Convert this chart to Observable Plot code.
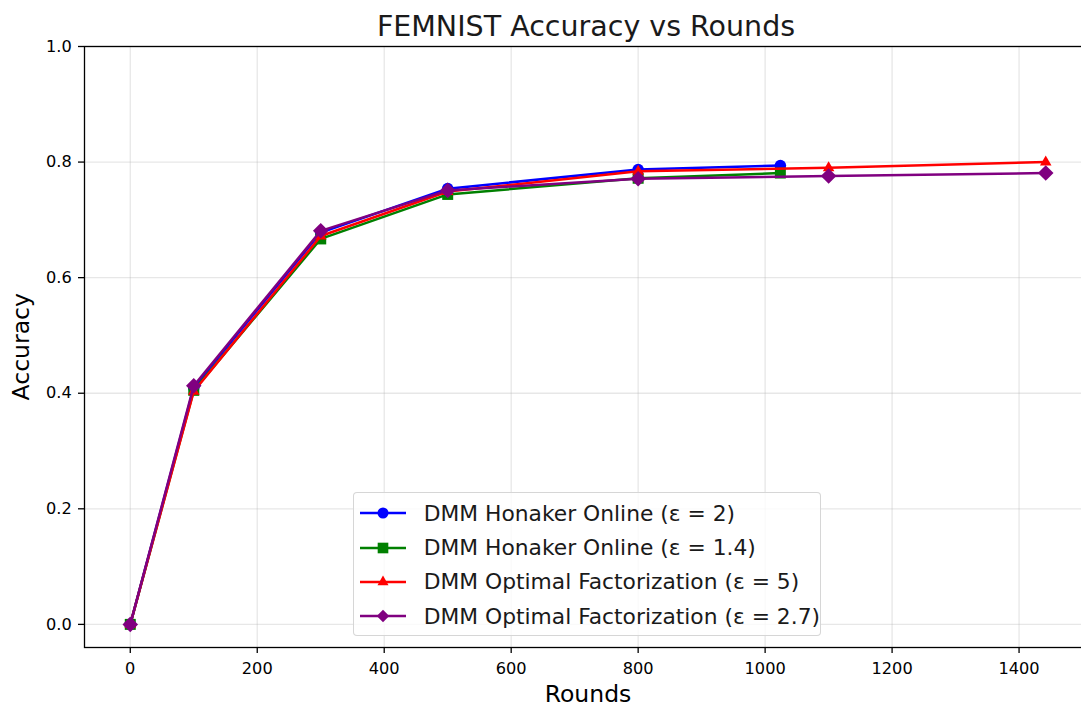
<!DOCTYPE html>
<html><head><meta charset="utf-8">
<script src="https://cdn.jsdelivr.net/npm/d3@7"></script>
<script src="https://cdn.jsdelivr.net/npm/@observablehq/plot@0.6"></script>
<style>
body{margin:0;background:#fff;font-family:"DejaVu Sans",sans-serif;color:#000;}
#wrap{position:relative;width:1081px;height:711px;overflow:hidden;background:#fff;}
#title{position:absolute;left:0;top:12.6px;width:1172px;text-align:center;font-size:28.5px;line-height:28.5px;white-space:nowrap;z-index:2;color:#1a1a1a;}
#chart{position:absolute;left:0;top:36px;width:1091px;height:675px;z-index:1;}
#chart svg{max-width:none !important;display:block;}
#xlabel{position:absolute;left:0;top:683.4px;width:1176px;text-align:center;font-size:23.5px;line-height:23.5px;white-space:nowrap;z-index:2;}
#ylabel{position:absolute;left:-78.3px;top:335.25px;width:200px;text-align:center;font-size:23.5px;line-height:23.5px;white-space:nowrap;transform:rotate(-90deg);transform-origin:50% 50%;z-index:2;}
#legend{position:absolute;left:353px;top:492px;width:468px;height:144px;box-sizing:border-box;border:1px solid rgba(204,204,204,0.8);border-radius:4px;background:rgba(255,255,255,0.8);z-index:3;}
.row{position:absolute;left:0;height:34.4px;display:flex;align-items:center;white-space:nowrap;font-size:21.8px;color:#1a1a1a;}
.row svg{margin-left:6px;}
.row span{margin-left:17.7px;}
</style></head><body>
<div id="wrap">
  <div id="title">FEMNIST Accuracy vs Rounds</div>
  <div id="chart"></div>
  <div id="xlabel">Rounds</div>
  <div id="ylabel">Accuracy</div>
  <div id="legend"></div>
</div>
<script>
// ---- data ----
const roundsHonaker = [0, 100, 300, 500, 800, 1024];
const roundsOptimal = [0, 100, 300, 500, 800, 1100, 1442];
const accHonakerEps2 = [0, 0.410, 0.678, 0.754, 0.787, 0.794];
const accHonakerEps14 = [0, 0.405, 0.667, 0.744, 0.772, 0.781];
const accOptimalEps5 = [0, 0.403, 0.672, 0.749, 0.784, 0.790, 0.800];
const accOptimalEps27 = [0, 0.413, 0.681, 0.751, 0.771, 0.776, 0.781];
const seriesNames = [
  "DMM Honaker Online (ε = 2)",
  "DMM Honaker Online (ε = 1.4)",
  "DMM Optimal Factorization (ε = 5)",
  "DMM Optimal Factorization (ε = 2.7)"
];
const seriesColors = ["blue", "green", "red", "purple"];
const seriesSymbols = ["circle", "square", "triangle", "diamond2"];
const xTicks = [0, 200, 400, 600, 800, 1000, 1200, 1400];
const yTicks = [0, 0.2, 0.4, 0.6, 0.8, 1.0];

const seriesRounds = [roundsHonaker, roundsHonaker, roundsOptimal, roundsOptimal];
const seriesAcc = [accHonakerEps2, accHonakerEps14, accOptimalEps5, accOptimalEps27];
const symbolR = {circle: 5.8, square: 6.2, triangle: 4.3, diamond2: 7.0};
const legendR = {circle: 5.5, square: 6.0, triangle: 4.1, diamond2: 5.6};

const marks = [
  Plot.gridX(xTicks, {stroke: "#b0b0b0", strokeOpacity: 0.3, strokeWidth: 1.3}),
  Plot.gridY(yTicks, {stroke: "#b0b0b0", strokeOpacity: 0.3, strokeWidth: 1.3})
];
seriesNames.forEach((name, k) => {
  const data = seriesRounds[k].map((r, i) => ({round: r, acc: seriesAcc[k][i], series: name}));
  marks.push(Plot.line(data, {x: "round", y: "acc", stroke: seriesColors[k], strokeWidth: 2.5}));
  marks.push(Plot.dot(data, {x: "round", y: "acc", fill: seriesColors[k], stroke: "none",
    symbol: seriesSymbols[k], r: symbolR[seriesSymbols[k]]}));
});
marks.push(Plot.frame({stroke: "#000", strokeWidth: 1.3}));
marks.push(Plot.axisX(xTicks, {tickSize: 6, tickPadding: 8.6, fontSize: 16.2, label: null, tickFormat: d3.format("d"), stroke: "#000", strokeWidth: 1.3}));
marks.push(Plot.axisY(yTicks, {tickSize: 6, tickPadding: 6.8, fontSize: 16.2, label: null, tickFormat: d3.format(".1f"), stroke: "#000", strokeWidth: 1.3}));

const chart = Plot.plot({
  width: 1091,
  height: 675,
  marginTop: 10,
  marginBottom: 64,
  marginLeft: 84,
  marginRight: 0,
  x: {domain: [-72.1, 1514.1]},
  y: {domain: [-0.04, 1.0]},
  style: {fontFamily: "DejaVu Sans", background: "transparent", color: "#000", overflow: "visible", maxWidth: "none"},
  marks
});
document.getElementById("chart").appendChild(chart);

// ---- legend ----
const legend = d3.select("#legend");
const d3Symbols = {circle: d3.symbolCircle, square: d3.symbolSquare, triangle: d3.symbolTriangle, diamond2: d3.symbolDiamond2};
seriesNames.forEach((name, k) => {
  const row = legend.append("div").attr("class", "row").style("top", (3.0 + 34.4 * k) + "px");
  const svg = row.append("svg").attr("width", 46).attr("height", 20);
  svg.append("line").attr("x1", 0).attr("x2", 46).attr("y1", 10).attr("y2", 10)
    .attr("stroke", seriesColors[k]).attr("stroke-width", 2.5);
  const r = legendR[seriesSymbols[k]];
  svg.append("path").attr("transform", "translate(23,10)")
    .attr("d", d3.symbol(d3Symbols[seriesSymbols[k]], Math.PI * r * r)())
    .attr("fill", seriesColors[k]);
  row.append("span").text(name);
});
</script>
</body></html>
